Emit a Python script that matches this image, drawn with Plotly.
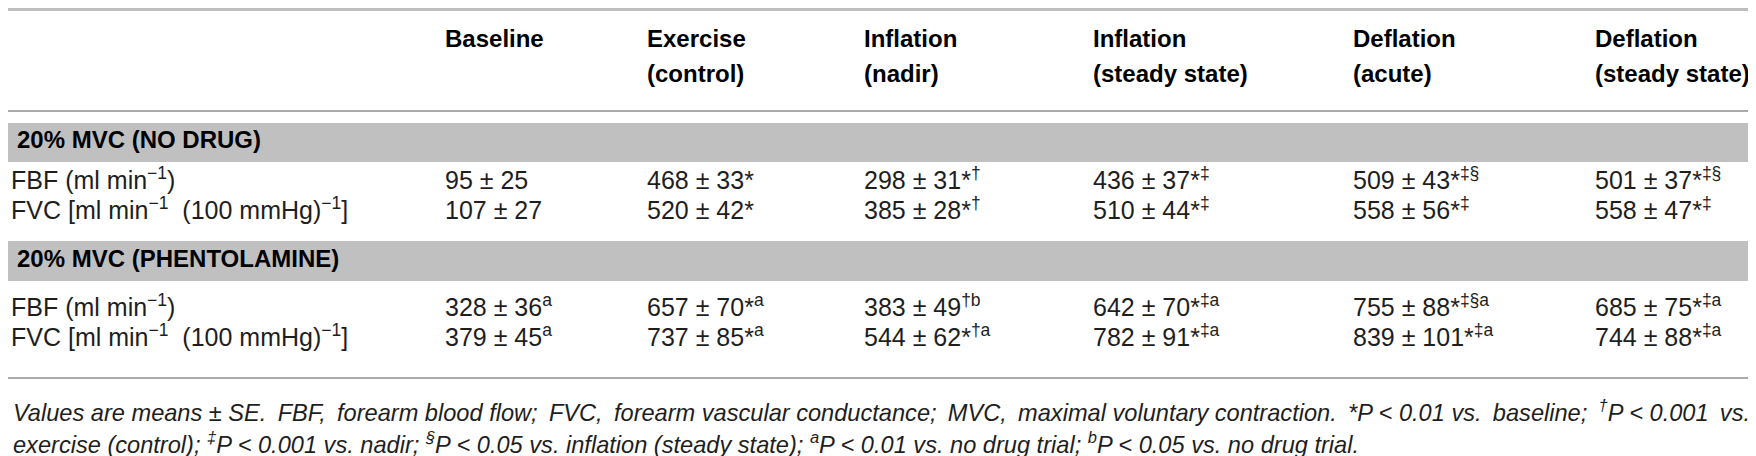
import plotly.graph_objects as go

# Column headers (two lines each) and row labels
headers_top = ["Baseline", "Exercise", "Inflation", "Inflation", "Deflation", "Deflation"]
headers_bottom = ["", "(control)", "(nadir)", "(steady state)", "(acute)", "(steady state)"]

groups = ["20% MVC (NO DRUG)", "20% MVC (PHENTOLAMINE)"]
row_labels = ["FBF (ml min<sup>−1</sup>)",
              "FVC [ml min<sup>−1</sup>  (100 mmHg)<sup>−1</sup>]"]

# Means, SE and significance marks per row
fbf_nodrug_mean = [95, 468, 298, 436, 509, 501]
fbf_nodrug_se = [25, 33, 31, 37, 43, 37]
fbf_nodrug_sig = ["", "*", "*†", "*‡", "*‡§", "*‡§"]

fvc_nodrug_mean = [107, 520, 385, 510, 558, 558]
fvc_nodrug_se = [27, 42, 28, 44, 56, 47]
fvc_nodrug_sig = ["", "*", "*†", "*‡", "*‡", "*‡"]

fbf_phen_mean = [328, 657, 383, 642, 755, 685]
fbf_phen_se = [36, 70, 49, 70, 88, 75]
fbf_phen_sig = ["a", "*a", "†b", "*‡a", "*‡§a", "*‡a"]

fvc_phen_mean = [379, 737, 544, 782, 839, 744]
fvc_phen_se = [45, 85, 62, 91, 101, 88]
fvc_phen_sig = ["a", "*a", "*†a", "*‡a", "*‡a", "*‡a"]

# first footnote line is justified in the original, thin spaces widen it a little
footnote_1 = ("Values are means ± SE. \u2009FBF, \u2009forearm blood flow; \u2009FVC, \u2009forearm vascular "
              "conductance; \u2009MVC, \u2009maximal voluntary contraction. \u2009*P &lt; 0.01 vs. \u2009baseline; "
              "\u2009<sup>†</sup>P &lt; 0.001 \u2009vs.")
footnote_2 = ("exercise (control); <sup>‡</sup>P &lt; 0.001 vs. nadir; <sup>§</sup>P &lt; 0.05 vs. "
              "inflation (steady state); <sup>a</sup>P &lt; 0.01 vs. no drug trial; "
              "<sup>b</sup>P &lt; 0.05 vs. no drug trial.")

# layout constants (pixels)
W, H = 1756, 456
col_x = [437, 639, 856, 1085, 1345, 1587]
label_x = 3
TEXT = "#1e1e1e"
FONT = "Liberation Sans"


def cell(m, s, sig):
    star = "*" if sig.startswith("*") else ""
    rest = sig[1:] if star else sig
    out = f"{m} ± {s}{star}"
    if rest:
        out += f"<sup>{rest}</sup>"
    return out


rows = [
    (fbf_nodrug_mean, fbf_nodrug_se, fbf_nodrug_sig, row_labels[0], 175),
    (fvc_nodrug_mean, fvc_nodrug_se, fvc_nodrug_sig, row_labels[1], 205),
    (fbf_phen_mean, fbf_phen_se, fbf_phen_sig, row_labels[0], 302),
    (fvc_phen_mean, fvc_phen_se, fvc_phen_sig, row_labels[1], 332),
]

xs, ys, texts = [], [], []
for mean, se, sig, label, y in rows:
    xs.append(label_x)
    ys.append(y)
    texts.append(label)
    for i in range(len(mean)):
        xs.append(col_x[i])
        ys.append(y)
        texts.append(cell(mean[i], se[i], sig[i]))

hx, hy, htext = [], [], []
for i in range(len(headers_top)):
    hx += [col_x[i], col_x[i]]
    hy += [33, 68]
    htext += [f"<b>{headers_top[i]}</b>", f"<b>{headers_bottom[i]}</b>" if headers_bottom[i] else ""]
hx += [9, 9]
hy += [134, 253]
htext += [f"<b>{g}</b>" for g in groups]

fig = go.Figure()

fig.add_trace(go.Scatter(
    x=xs, y=ys, text=texts, mode="text", textposition="middle right",
    textfont=dict(family=FONT, size=25, color=TEXT), hoverinfo="skip",
    cliponaxis=False,
))
fig.add_trace(go.Scatter(
    x=hx, y=hy, text=htext, mode="text", textposition="middle right",
    textfont=dict(family=FONT, size=24, color="#000000"), hoverinfo="skip",
    cliponaxis=False,
))

shapes = [
    dict(type="rect", x0=0, x1=W, y0=0, y1=3, fillcolor="#bdbdbd", line_width=0),
    dict(type="line", x0=0, x1=W, y0=103, y1=103, line=dict(color="#aaaaaa", width=2)),
    dict(type="rect", x0=0, x1=W, y0=115, y1=154, fillcolor="#c0c0c0", line_width=0, layer="below"),
    dict(type="rect", x0=0, x1=W, y0=233, y1=273, fillcolor="#c0c0c0", line_width=0, layer="below"),
    dict(type="line", x0=0, x1=W, y0=370, y1=370, line=dict(color="#aaaaaa", width=2)),
]

annotations = [
    dict(x=label_x, y=403, text=footnote_1, showarrow=False, xanchor="left", yanchor="middle",
         font=dict(family=FONT, size=23.6, color=TEXT, style="italic")),
    dict(x=label_x, y=435, text=footnote_2, showarrow=False, xanchor="left", yanchor="middle",
         font=dict(family=FONT, size=23.6, color=TEXT, style="italic")),
]

fig.update_layout(
    width=W, height=H,
    margin=dict(l=0, r=0, t=0, b=0),
    paper_bgcolor="white", plot_bgcolor="white",
    showlegend=False,
    xaxis=dict(range=[0, W], visible=False, fixedrange=True),
    yaxis=dict(range=[H, 0], visible=False, fixedrange=True),
    shapes=shapes,
    annotations=annotations,
)

fig.write_html("out.html")
